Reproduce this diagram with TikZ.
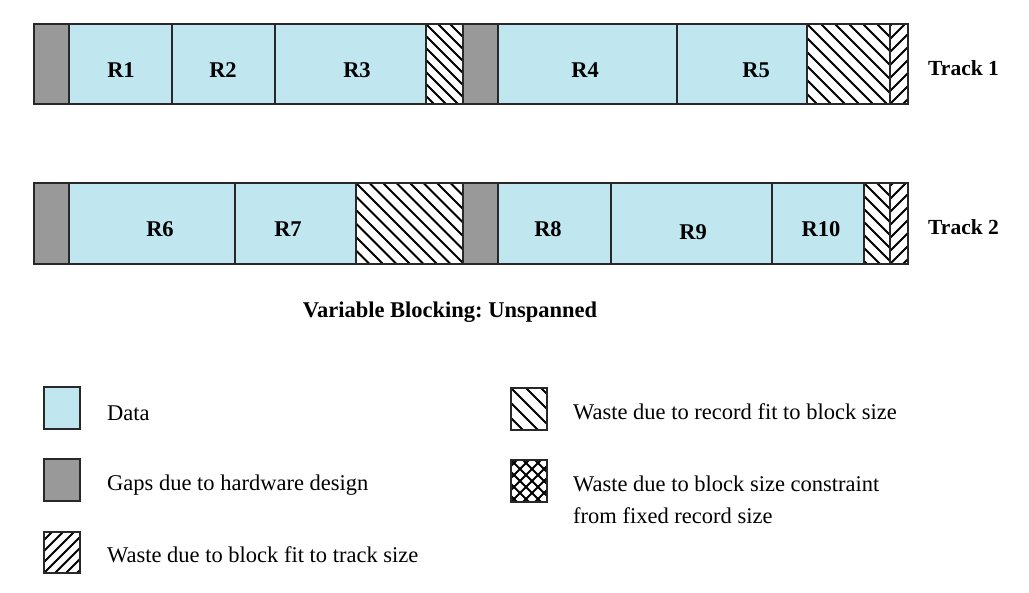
\documentclass[tikz,border=0pt]{standalone}
\usepackage{fontspec}
\setmainfont{Liberation Serif}
\definecolor{datablue}{RGB}{192,230,240}
\definecolor{gapgray}{RGB}{153,153,153}
\definecolor{edge}{RGB}{40,40,40}
\tikzset{
  cellline/.style={draw=edge, line width=1.5pt},
  trackline/.style={draw=edge, line width=2pt},
  datacell/.style={fill=datablue, cellline},
  gapcell/.style={fill=gapgray, cellline},
  hatchline/.style={draw=black, line width=1.8pt},
  reclabel/.style={font=\fontsize{22.5}{26}\selectfont\bfseries, anchor=base, inner sep=0pt},
  tracklabel/.style={font=\fontsize{21.5}{26}\selectfont\bfseries, anchor=base west, inner sep=0pt},
  legtext/.style={font=\fontsize{22.5}{27}\selectfont, anchor=base west, inner sep=0pt},
}
% rectangle x1 x2 y1 y2 with "\" hatching of given spacing
\newcommand\backhatch[5]{%
  \begin{scope}
    \clip (#1,#3) rectangle (#2,#4);
    \fill[white] (#1,#3) rectangle (#2,#4);
    \foreach \s in {-8,...,12}
      \draw[hatchline] ({#1+\s*#5},#3) -- ++(100,100);
  \end{scope}
  \draw[cellline] (#1,#3) rectangle (#2,#4);}
% rectangle x1 x2 y1 y2 with "/" hatching of given spacing
\newcommand\fwdhatch[5]{%
  \begin{scope}
    \clip (#1,#3) rectangle (#2,#4);
    \fill[white] (#1,#3) rectangle (#2,#4);
    \foreach \s in {-8,...,12}
      \draw[hatchline] ({#1+\s*#5},#4) -- ++(100,-100);
  \end{scope}
  \draw[cellline] (#1,#3) rectangle (#2,#4);}
\begin{document}
\frenchspacing
\begin{tikzpicture}[x=1pt,y=-1pt]
\useasboundingbox (0,0) rectangle (1029,593);

% ---------- Track 1 ----------
\path[gapcell]  (34,24) rectangle (69,104);
\path[datacell] (69,24) rectangle (172,104);
\path[datacell] (172,24) rectangle (275,104);
\path[datacell] (275,24) rectangle (426,104);
\backhatch{426}{463}{24}{104}{12}
\path[gapcell]  (463,24) rectangle (498,104);
\path[datacell] (498,24) rectangle (677,104);
\path[datacell] (677,24) rectangle (807,104);
\backhatch{807}{890}{24}{104}{14}
\fwdhatch{890}{908}{24}{104}{13}
\draw[trackline] (34,24) rectangle (908,104);

\node[reclabel] (r1) at (121,78) {R1};
\node[reclabel] (r2) at (223,78) {R2};
\node[reclabel] (r3) at (357,78) {R3};
\node[reclabel] (r4) at (585,78) {R4};
\node[reclabel] (r5) at (756,78) {R5};
\node[tracklabel] (t1) at (928,76) {Track 1};

% ---------- Track 2 ----------
\path[gapcell]  (34,183) rectangle (69,264);
\path[datacell] (69,183) rectangle (235,264);
\path[datacell] (235,183) rectangle (356,264);
\backhatch{356}{463}{183}{264}{13.5}
\path[gapcell]  (463,183) rectangle (498,264);
\path[datacell] (498,183) rectangle (611,264);
\path[datacell] (611,183) rectangle (772,264);
\path[datacell] (772,183) rectangle (864,264);
\backhatch{864}{890}{183}{264}{13}
\fwdhatch{890}{908}{183}{264}{13}
\draw[trackline] (34,183) rectangle (908,264);

\node[reclabel] (r6) at (160,237) {R6};
\node[reclabel] (r7) at (288,237) {R7};
\node[reclabel] (r8) at (548,237) {R8};
\node[reclabel] (r9) at (693,240) {R9};
\node[reclabel] (r10) at (821,237) {R10};
\node[tracklabel] (t2) at (928,235) {Track 2};

\node[font=\fontsize{22.5}{27}\selectfont\bfseries, anchor=base, inner sep=0pt] (caption) at (450,318) {Variable Blocking: Unspanned};

% ---------- Legend ----------
\path[datacell] (44,387) rectangle (80,429);
\node[legtext] (ldata) at (107,421) {Data};
\path[gapcell] (44,459) rectangle (80,501);
\node[legtext] (lgap) at (107,491) {Gaps due to hardware design};
\fwdhatch{44}{80}{532}{573}{11}
\node[legtext] (ltrack) at (107,563) {Waste due to block fit to track size};

\backhatch{511}{547}{388}{430}{15}
\node[legtext] (lrec) at (573,420) {Waste due to record fit to block size};
\begin{scope}
  \clip (511,460) rectangle (547,502);
  \fill[white] (511,460) rectangle (547,502);
  \foreach \s in {-8,...,12} {
    \draw[hatchline] ({511+\s*12},460) -- ++(100,100);
    \draw[hatchline] ({511+\s*12},502) -- ++(100,-100);
  }
\end{scope}
\draw[cellline] (511,460) rectangle (547,502);
\node[legtext] (lblk1) at (573,492) {Waste due to block size constraint};
\node[legtext] (lblk2) at (573,524) {from fixed record size};
\end{tikzpicture}
\end{document}
